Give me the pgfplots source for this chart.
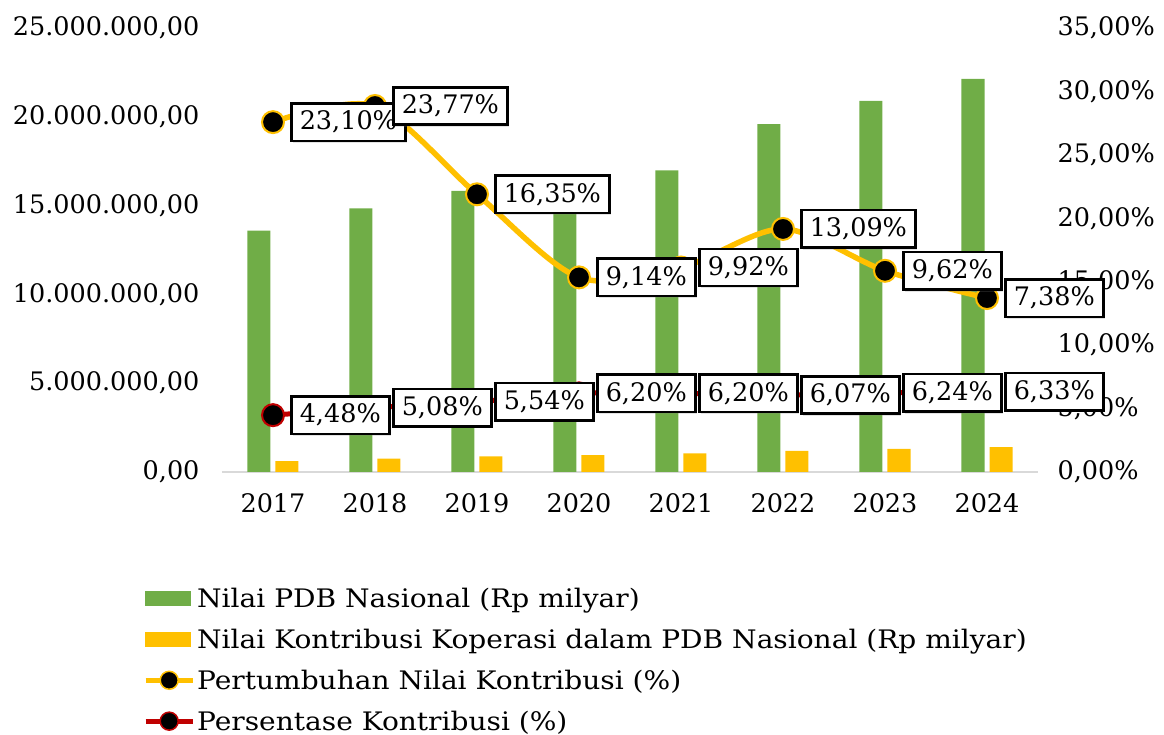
\documentclass[border=0pt]{standalone}
\usepackage{pgfplots}
\pgfplotsset{compat=1.18}
\usepackage{pgfplotstable}
\usepackage{fontspec}
\setmainfont{DejaVu Serif}
\newfontfamily\legfont[FakeStretch=1.1]{DejaVu Serif}
\usetikzlibrary{shadows}
\definecolor{hijau}{HTML}{70AD47}
\definecolor{kuning}{HTML}{FFC000}
\definecolor{merah}{HTML}{C00000}
\newcommand\f{\fontsize{25.5pt}{30pt}\selectfont}

\pgfplotstableread{
x pdb kop
0 13589825 608824
1 14838311 753786
2 15833944 877201
3 15434152 956917
4 16976691 1052555
5 19588446 1189019
6 20892377 1303684
7 22139000 1401399
}\pdbtable

\pgfplotstableread{
x pers grow
0 4.48 23.10
1 5.08 23.77
2 5.54 16.35
3 6.20 9.14
4 6.20 9.92
5 6.07 13.09
6 6.24 9.62
7 6.33 7.38
}\lintable

\pgfplotsset{
  base/.style={at={(0pt,0pt)}, anchor=south west,
    scale only axis, width=816pt, height=444pt,
    xmin=-0.5, xmax=7.5, clip=false},
  right/.style={base, ymin=0, ymax=35, stack plots=y},
  lbl/.style={
    draw=none, mark=none, 
    nodes near coords={\pgfmathprintnumber[fixed,fixed zerofill,precision=2,use comma,assume math mode=true]{\pgfplotspointmeta}\%},
    point meta=explicit,
    nodes near coords style={anchor=west, xshift=17pt, draw=black, line width=2.5pt, fill=white, text=black,
      inner xsep=8.5pt, inner ysep=7.5pt, font=\f,
      drop shadow={shadow xshift=2pt, shadow yshift=-2pt, opacity=0.22}},
  },
}

\begin{document}
\begin{tikzpicture}
\path[use as bounding box] (-222pt,-263pt) rectangle (942pt,472pt);
% bars, left axis
\begin{axis}[
  base, ymin=0, ymax=25000000,
  xtick={0,1,2,3,4,5,6,7},
  xticklabels={2017,2018,2019,2020,2021,2022,2023,2024},
  ytick={0,5000000,10000000,15000000,20000000,25000000},
  scaled y ticks=false,
  yticklabel={\pgfmathprintnumber[fixed,fixed zerofill,precision=2,use comma,1000 sep={.},assume math mode=true]{\tick}},
  tick label style={font=\f, text=black},
  separate axis lines,
  axis x line*=bottom, axis y line*=left,
  x axis line style={draw=black!15, line width=1.5pt, -},
  y axis line style={draw=none},
  major tick length=0pt,
  tick style={draw=none},
  xticklabel style={yshift=-18pt},
  yticklabel style={xshift=-19pt},
]
\addplot[ybar, bar width=23pt, bar shift=-14pt, fill=hijau, draw=none] table[x=x,y=pdb]{\pdbtable};
\addplot[ybar, bar width=23pt, bar shift=14pt, fill=kuning, draw=none] table[x=x,y=kop]{\pdbtable};
\end{axis}
% lines, right axis (stacked lines)
\begin{axis}[right, hide axis]
\addplot[merah, line width=5pt, smooth, mark=*, mark size=11pt, mark options={fill=black, draw=merah, line width=2pt}] table[x=x,y=pers]{\lintable};
\addplot[kuning, line width=5.5pt, smooth, mark=*, mark size=11pt, mark options={fill=black, draw=kuning, line width=2pt}] table[x=x,y=grow]{\lintable};
\end{axis}
% data labels, right tick labels, legend
\begin{axis}[
  right,
  hide x axis,
  axis y line*=right, y axis line style={draw=none},
  ytick={0,5,10,15,20,25,30,35},
  yticklabel={\pgfmathprintnumber[fixed,fixed zerofill,precision=2,use comma,assume math mode=true]{\tick}\%},
  tick label style={font=\f, text=black},
  major tick length=0pt, tick style={draw=none},
  yticklabel style={xshift=16pt},
  legend cell align=left,
  legend style={at={(-0.1005,-0.252)}, anchor=north west, draw=none, fill=none, font=\f\legfont,
    row sep=16pt, /tikz/every even column/.append style={column sep=5pt}},
]
\addlegendimage{legend image code/.code={\fill[hijau] (0pt,-7pt) rectangle (45pt,7pt);}}
\addlegendimage{legend image code/.code={\fill[kuning] (0pt,-7pt) rectangle (45pt,7pt);}}
\addlegendimage{legend image code/.code={\draw[kuning,line width=5pt] (0pt,0pt)--(47pt,0pt); \filldraw[fill=black,draw=kuning,line width=1.5pt] (23.5pt,0pt) circle (9pt);}}
\addlegendimage{legend image code/.code={\draw[merah,line width=5pt] (0pt,0pt)--(47pt,0pt); \filldraw[fill=black,draw=merah,line width=1.5pt] (23.5pt,0pt) circle (9pt);}}
\addplot[lbl] table[x=x,y=pers,meta=pers]{\lintable};
\addplot[lbl] table[x=x,y=grow,meta=grow]{\lintable};
\legend{Nilai PDB Nasional (Rp milyar),Nilai Kontribusi Koperasi dalam PDB Nasional (Rp milyar),Pertumbuhan Nilai Kontribusi (\%),Persentase Kontribusi (\%)}
\end{axis}
\end{tikzpicture}
\end{document}
